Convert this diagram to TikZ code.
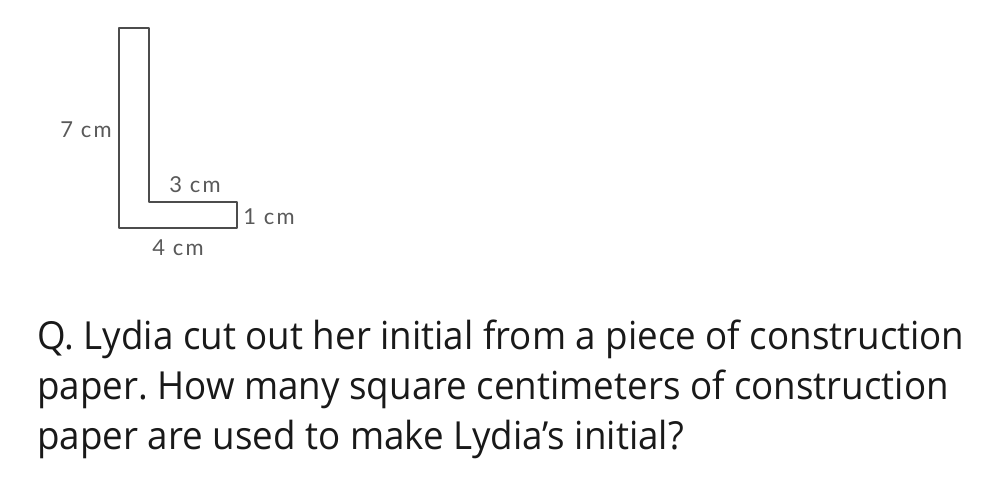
\documentclass[tikz,border=0pt]{standalone}
\usepackage{fontspec}
\setmainfont{Open Sans}
\newfontfamily\qfont[FakeStretch=0.95]{Open Sans}
\newfontfamily\dimfont[LetterSpace=10]{Lato}
\usetikzlibrary{positioning}

\begin{document}
\frenchspacing
\begin{tikzpicture}[x=0.02cm,y=-0.02cm,
  dim/.style={font=\dimfont\fontsize{12.5}{14}\selectfont, text=black!65, inner sep=1pt},
  question/.style={font=\qfont\fontsize{22}{28.4}\selectfont, align=left, anchor=north west, inner sep=0pt, text=black!90}]
\useasboundingbox (0,0) rectangle (1000,484);
% the letter L
\draw[line width=1.5pt, black!70, line join=round] (119,28) -- (149,28) -- (149,202) -- (237,202) -- (237,228) -- (119,228) -- cycle;
\node (seven) at (86,130) [dim] {7 cm};
\node (three) at (195,185) [dim] {3 cm};
\node (one) at (269,217) [dim] {1 cm};
\node (four) at (178,248) [dim] {4 cm};
\node (q) at (37,320) [question] {Q. Lydia cut out her initial from a piece of construction\\paper. How many square centimeters of construction\\paper are used to make Lydia’s initial?};
\end{tikzpicture}
\end{document}
